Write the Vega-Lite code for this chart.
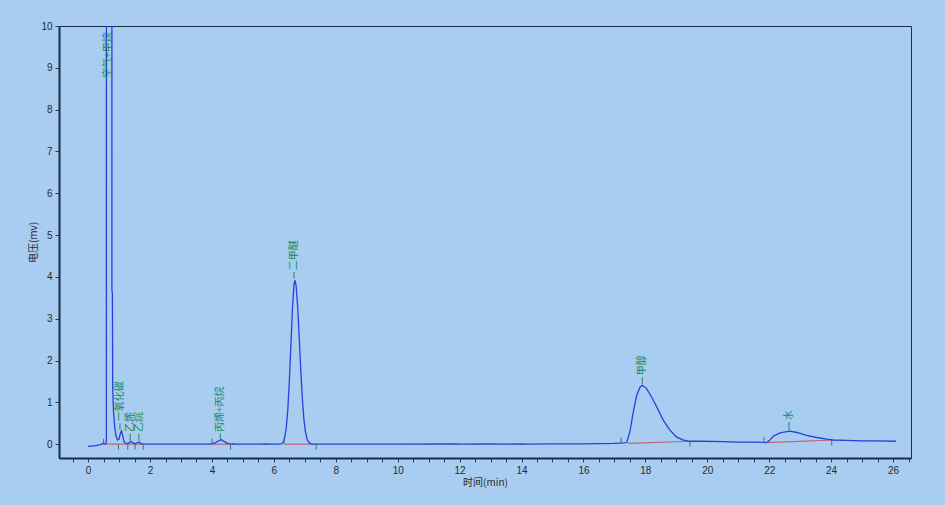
{
  "$schema": "https://vega.github.io/schema/vega-lite/v6.json",
  "width": 852,
  "height": 432,
  "autosize": "none",
  "padding": {"left": 59, "top": 26, "right": 34, "bottom": 47},
  "background": "#a8cdf0",
  "config": {
    "view": {"stroke": "#1c2c48", "strokeWidth": 1, "fill": "#a8cdf0"},
    "axis": {"labelFont": "Liberation Sans", "labelFontSize": 10, "labelColor": "#2a2a2a", "titleFont": "Noto Sans CJK SC", "titleFontSize": 10, "titleFontWeight": "normal", "titleColor": "#2a2a2a", "grid": false, "domainColor": "#1c2c48", "domainWidth": 2, "tickColor": "#2a3a55", "tickSize": 4}
  },
  "datasets": {
    "trace": [
      {"t": 0.0, "v": -0.05}, {"t": 0.2, "v": -0.04}, {"t": 0.4, "v": -0.01}, {"t": 0.48, "v": 0.02}, {"t": 0.52, "v": 0.0}, {"t": 0.58, "v": 0.02}, {"t": 0.59, "v": 0.1}, {"t": 0.6, "v": 60}, {"t": 0.76, "v": 60}, {"t": 0.77, "v": 3.7}, {"t": 0.785, "v": 3.6}, {"t": 0.795, "v": 1.3}, {"t": 0.82, "v": 0.8}, {"t": 0.86, "v": 0.4}, {"t": 0.9, "v": 0.2}, {"t": 0.95, "v": 0.1}, {"t": 1.0, "v": 0.12}, {"t": 1.05, "v": 0.28}, {"t": 1.08, "v": 0.32}, {"t": 1.12, "v": 0.2}, {"t": 1.16, "v": 0.06}, {"t": 1.22, "v": 0.02}, {"t": 1.3, "v": 0.02}, {"t": 1.38, "v": 0.06}, {"t": 1.42, "v": 0.05}, {"t": 1.5, "v": 0.01}, {"t": 1.6, "v": 0.04}, {"t": 1.66, "v": 0.05}, {"t": 1.72, "v": 0.01}, {"t": 1.8, "v": 0.0}, {"t": 2.5, "v": 0.0}, {"t": 3.5, "v": 0.0}, {"t": 3.95, "v": 0.0}, {"t": 4.1, "v": 0.03}, {"t": 4.2, "v": 0.07}, {"t": 4.3, "v": 0.11}, {"t": 4.4, "v": 0.06}, {"t": 4.5, "v": 0.02}, {"t": 4.62, "v": 0.0}, {"t": 4.7, "v": 0.01}, {"t": 4.75, "v": 0.0}, {"t": 5.5, "v": 0.0}, {"t": 5.8, "v": 0.01}, {"t": 5.9, "v": 0.0}, {"t": 6.2, "v": 0.0}, {"t": 6.25, "v": 0.01}, {"t": 6.3, "v": 0.05}, {"t": 6.35, "v": 0.16}, {"t": 6.4, "v": 0.39}, {"t": 6.45, "v": 0.82}, {"t": 6.5, "v": 1.5}, {"t": 6.55, "v": 2.38}, {"t": 6.6, "v": 3.24}, {"t": 6.65, "v": 3.82}, {"t": 6.68, "v": 3.92}, {"t": 6.72, "v": 3.78}, {"t": 6.77, "v": 3.27}, {"t": 6.82, "v": 2.54}, {"t": 6.87, "v": 1.76}, {"t": 6.92, "v": 1.09}, {"t": 6.97, "v": 0.6}, {"t": 7.02, "v": 0.3}, {"t": 7.07, "v": 0.13}, {"t": 7.12, "v": 0.05}, {"t": 7.2, "v": 0.01}, {"t": 7.3, "v": 0.0}, {"t": 8, "v": 0.0}, {"t": 10, "v": 0.0}, {"t": 11.9, "v": 0.01}, {"t": 12, "v": 0.0}, {"t": 13, "v": 0.01}, {"t": 13.5, "v": 0.0}, {"t": 14, "v": 0.01}, {"t": 14.2, "v": 0.0}, {"t": 15, "v": 0.01}, {"t": 16, "v": 0.01}, {"t": 17, "v": 0.02}, {"t": 17.3, "v": 0.03}, {"t": 17.4, "v": 0.04}, {"t": 17.5, "v": 0.3}, {"t": 17.62, "v": 0.81}, {"t": 17.72, "v": 1.17}, {"t": 17.83, "v": 1.37}, {"t": 17.9, "v": 1.41}, {"t": 18.04, "v": 1.33}, {"t": 18.2, "v": 1.13}, {"t": 18.37, "v": 0.89}, {"t": 18.58, "v": 0.57}, {"t": 18.8, "v": 0.33}, {"t": 19.01, "v": 0.17}, {"t": 19.23, "v": 0.1}, {"t": 19.44, "v": 0.07}, {"t": 19.8, "v": 0.07}, {"t": 20.5, "v": 0.06}, {"t": 21, "v": 0.05}, {"t": 21.5, "v": 0.05}, {"t": 21.9, "v": 0.04}, {"t": 22.0, "v": 0.08}, {"t": 22.13, "v": 0.19}, {"t": 22.35, "v": 0.27}, {"t": 22.57, "v": 0.3}, {"t": 22.68, "v": 0.31}, {"t": 22.89, "v": 0.28}, {"t": 23.21, "v": 0.21}, {"t": 23.54, "v": 0.16}, {"t": 23.86, "v": 0.12}, {"t": 24.06, "v": 0.1}, {"t": 24.5, "v": 0.09}, {"t": 25, "v": 0.08}, {"t": 25.5, "v": 0.08}, {"t": 26.1, "v": 0.07}
    ],
    "base": [
      {"seg": "a", "t": 0.55, "v": 0.0}, {"seg": "a", "t": 1.78, "v": 0.0},
      {"seg": "b", "t": 4.0, "v": 0.0}, {"seg": "b", "t": 4.6, "v": 0.0},
      {"seg": "c", "t": 6.35, "v": 0.0}, {"seg": "c", "t": 7.35, "v": 0.0},
      {"seg": "d", "t": 17.45, "v": 0.02}, {"seg": "d", "t": 19.44, "v": 0.07},
      {"seg": "e", "t": 21.95, "v": 0.04}, {"seg": "e", "t": 24.05, "v": 0.1}
    ],
    "marks": [
      {"t": 0.5, "v": 0.0, "v2": 0.13}, {"t": 0.98, "v": 0.0, "v2": -0.13}, {"t": 1.28, "v": 0.0, "v2": -0.13}, {"t": 1.52, "v": 0.0, "v2": -0.13}, {"t": 1.78, "v": 0.0, "v2": -0.13},
      {"t": 4.0, "v": 0.0, "v2": 0.13}, {"t": 4.6, "v": 0.0, "v2": -0.13},
      {"t": 6.33, "v": 0.0, "v2": 0.13}, {"t": 7.37, "v": 0.0, "v2": -0.13},
      {"t": 17.22, "v": 0.03, "v2": 0.16}, {"t": 19.44, "v": 0.07, "v2": -0.06},
      {"t": 21.83, "v": 0.04, "v2": 0.17}, {"t": 24.02, "v": 0.1, "v2": -0.03}
    ],
    "labels": [
      {"name": "空气+甲烷", "t": 0.63, "y": 8.76, "lb": null, "lt": null},
      {"name": "一氧化碳", "t": 1.03, "y": 0.55, "lb": 0.35, "lt": 0.5},
      {"name": "乙烯", "t": 1.36, "y": 0.29, "lb": 0.08, "lt": 0.25},
      {"name": "乙烷", "t": 1.64, "y": 0.29, "lb": 0.07, "lt": 0.25},
      {"name": "丙烯+丙烷", "t": 4.27, "y": 0.29, "lb": 0.13, "lt": 0.26},
      {"name": "二甲醚", "t": 6.65, "y": 4.16, "lb": 3.96, "lt": 4.12},
      {"name": "甲醇", "t": 17.9, "y": 1.65, "lb": 1.44, "lt": 1.6},
      {"name": "水", "t": 22.64, "y": 0.57, "lb": 0.33, "lt": 0.53}
    ]
  },
  "layer": [
    {
      "data": {"name": "base"},
      "mark": {"type": "line", "color": "#c4607a", "strokeWidth": 1.2},
      "encoding": {
        "x": {"field": "t", "type": "quantitative", "scale": {"domain": [-0.94, 26.58], "nice": false, "zero": false},
          "axis": {"values": [-0.5, 0, 0.5, 1, 1.5, 2, 2.5, 3, 3.5, 4, 4.5, 5, 5.5, 6, 6.5, 7, 7.5, 8, 8.5, 9, 9.5, 10, 10.5, 11, 11.5, 12, 12.5, 13, 13.5, 14, 14.5, 15, 15.5, 16, 16.5, 17, 17.5, 18, 18.5, 19, 19.5, 20, 20.5, 21, 21.5, 22, 22.5, 23, 23.5, 24, 24.5, 25, 25.5, 26, 26.5],
            "tickCount": 200, "labelExpr": "datum.value % 2 === 0 ? '' + datum.value : ''", "labelOverlap": false, "labelFlush": false, "labelPadding": 3, "title": "时间(min)", "titlePadding": 2}},
        "y": {"field": "v", "type": "quantitative", "scale": {"domain": [-0.33, 10], "nice": false, "zero": false},
          "axis": {"values": [0, 1, 2, 3, 4, 5, 6, 7, 8, 9, 10], "tickCount": 50, "format": "d", "labelOverlap": false, "labelPadding": 3, "title": "电压(mv)", "titlePadding": 2}},
        "detail": {"field": "seg"}
      }
    },
    {
      "data": {"name": "trace"},
      "mark": {"type": "line", "color": "#2540dc", "strokeWidth": 1.3, "clip": true},
      "encoding": {
        "x": {"field": "t", "type": "quantitative"},
        "y": {"field": "v", "type": "quantitative"}
      }
    },
    {
      "data": {"name": "marks"},
      "mark": {"type": "rule", "color": "#3a7a5a", "strokeWidth": 1},
      "encoding": {
        "x": {"field": "t", "type": "quantitative"},
        "y": {"field": "v", "type": "quantitative"},
        "y2": {"field": "v2"}
      }
    },
    {
      "data": {"name": "labels"},
      "transform": [{"filter": "datum.lb != null"}],
      "mark": {"type": "rule", "color": "#1f8a5a", "strokeWidth": 1},
      "encoding": {
        "x": {"field": "t", "type": "quantitative"},
        "y": {"field": "lb", "type": "quantitative"},
        "y2": {"field": "lt"}
      }
    },
    {
      "data": {"name": "labels"},
      "mark": {"type": "text", "angle": 270, "align": "left", "baseline": "middle", "font": "Noto Sans CJK SC", "fontSize": 10, "color": "#1a8a58"},
      "encoding": {
        "x": {"field": "t", "type": "quantitative"},
        "y": {"field": "y", "type": "quantitative"},
        "text": {"field": "name"}
      }
    }
  ]
}
